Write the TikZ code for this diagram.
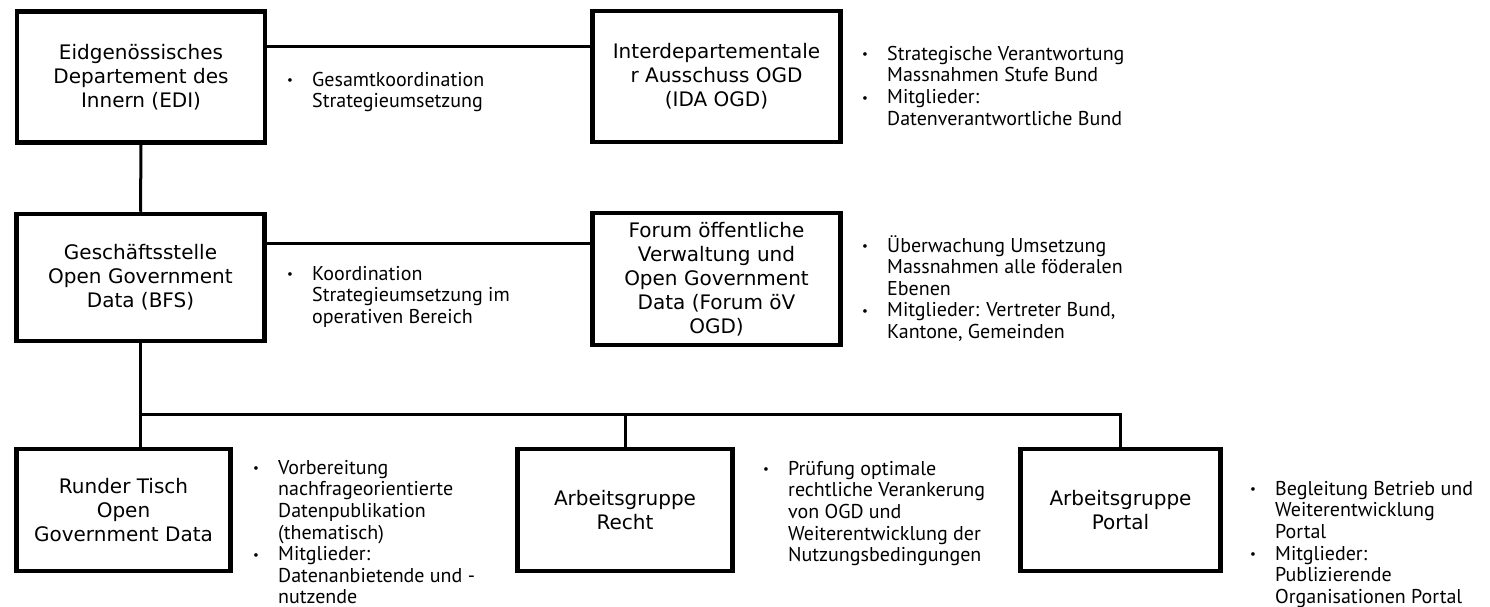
\documentclass[tikz,border=0pt]{standalone}
\usepackage{fontspec}
\setmainfont{PT Sans}
\newfontfamily\boxfont{DejaVu Sans}

\tikzset{
  stelle/.style={draw, line width=4.5pt, align=center, inner sep=0pt,
    font=\boxfont\fontsize{20}{24}\selectfont},
  aufgabe/.style={anchor=north west, align=left, inner sep=0pt,
    font=\fontsize{20}{21.6}\selectfont},
  verbindung/.style={line width=3pt}
}
\newcommand\bul[1]{\strut\makebox[25pt][l]{\raisebox{1.5pt}{\fontsize{13}{13}\selectfont\textbullet}}#1}
\newcommand\wei[1]{\strut\hspace*{25pt}#1}

\begin{document}
\begin{tikzpicture}[x=1pt,y=-1pt]
\useasboundingbox (0,0) rectangle (1490,607);

%Kaesten oben
\node[stelle, minimum width=248, minimum height=131] (EDI) at (141,77) {Eidgenössisches\\Departement des\\Innern (EDI)};
\node[stelle, minimum width=248, minimum height=131] (IDA) at (716.5,76.5) {Interdepartementale\\r Ausschuss OGD\\(IDA OGD)};

%Kaesten Mitte
\node[stelle, minimum width=248, minimum height=127] (GS) at (140.5,277.5) {Geschäftsstelle\\Open Government\\Data (BFS)};
\node[stelle, minimum width=248, minimum height=132] (Forum) at (716.5,279) {Forum öffentliche\\Verwaltung und\\Open Government\\Data (Forum öV\\OGD)};

%Kaesten unten
\node[stelle, minimum width=214, minimum height=122] (Runder) at (123.5,510) {Runder Tisch\\Open\\Government Data};
\node[stelle, minimum width=215, minimum height=122] (Recht) at (625,510) {Arbeitsgruppe\\Recht};
\node[stelle, minimum width=200, minimum height=122] (Portal) at (1120.5,510) {Arbeitsgruppe\\Portal};

%Verbindungen
\draw[verbindung] ([yshift=30pt]EDI.east) -- ([yshift=30pt]EDI.east -| IDA.west);
\draw[verbindung] ([yshift=34.5pt]GS.east) -- ([yshift=34.5pt]GS.east -| Forum.west);
\draw[verbindung] (EDI.south) -- (GS.north);
\coordinate (bus) at (GS.south |- 0,414);
\draw[verbindung] (GS.south) -- (bus) -- (bus -| Portal.north) -- (Portal.north);
\draw[verbindung] (bus) -- (bus |- Runder.north);
\draw[verbindung] (bus -| Recht.north) -- (Recht.north);

%Aufgaben
\node[aufgabe] (tEDI) at (287,71) {\bul{Gesamtkoordination}\\\wei{Strategieumsetzung}};
\node[aufgabe] (tIDA) at (862,45) {\bul{Strategische Verantwortung}\\\wei{Massnahmen Stufe Bund}\\\bul{Mitglieder:}\\\wei{Datenverantwortliche Bund}};
\node[aufgabe] (tGS) at (287,265) {\bul{Koordination}\\\wei{Strategieumsetzung im}\\\wei{operativen Bereich}};
\node[aufgabe] (tForum) at (862,235) {\bul{Überwachung Umsetzung}\\\wei{Massnahmen alle föderalen}\\\wei{Ebenen}\\\bul{Mitglieder: Vertreter Bund,}\\\wei{Kantone, Gemeinden}};
\node[aufgabe] (tRunder) at (253,459) {\bul{Vorbereitung}\\\wei{nachfrageorientierte}\\\wei{Datenpublikation}\\\wei{(thematisch)}\\\bul{Mitglieder:}\\\wei{Datenanbietende und -}\\\wei{nutzende}};
\node[aufgabe] (tRecht) at (763,460) {\bul{Prüfung optimale}\\\wei{rechtliche Verankerung}\\\wei{von OGD und}\\\wei{Weiterentwicklung der}\\\wei{Nutzungsbedingungen}};
\node[aufgabe] (tPortal) at (1250,480) {\bul{Begleitung Betrieb und}\\\wei{Weiterentwicklung}\\\wei{Portal}\\\bul{Mitglieder:}\\\wei{Publizierende}\\\wei{Organisationen Portal}};
\end{tikzpicture}
\end{document}
